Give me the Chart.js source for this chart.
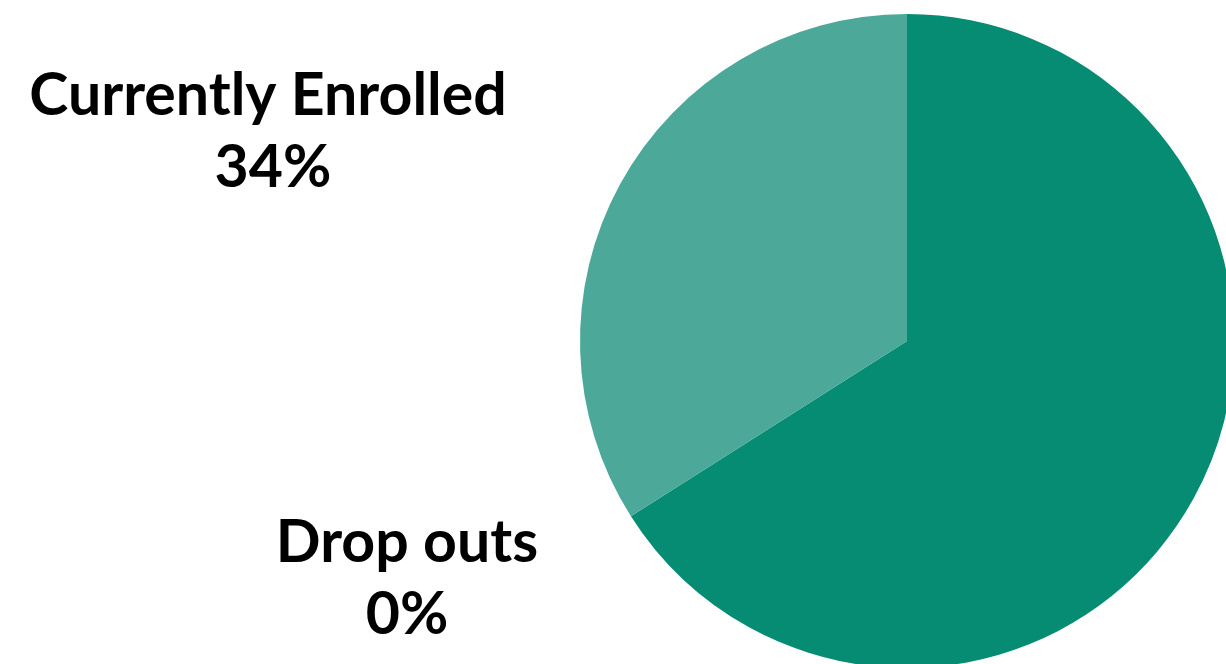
<!DOCTYPE html>
<html>
<head>
<meta charset="utf-8">
<title>Enrollment Status</title>
<script src="https://cdn.jsdelivr.net/npm/chart.js@4"></script>
<style>
  html, body { margin: 0; padding: 0; background: #fff; overflow: hidden; }
  .chart-box { position: absolute; left: 0; top: 0; width: 1240px; height: 680px; }
</style>
</head>
<body>
<div class="chart-box"><canvas id="statusChart"></canvas></div>
<script>
// enrollment breakdown (percent)
const categories = ['Completed', 'Currently Enrolled', 'Drop outs'];
const shares = [66, 34, 0];
const sliceColors = ['#078c74', '#4ca898', '#4ca898'];

// which slices get a caption, and where it sits
const captions = [
  { index: 1, x: 268, y: 115, pctX: 273 },
  { index: 2, x: 407, y: 562, pctX: 407 }
];

// draws the name + percentage captions beside the pie
const captionPlugin = {
  id: 'captions',
  afterDraw(chart) {
    const ctx = chart.ctx;
    ctx.save();
    ctx.fillStyle = '#000';
    ctx.textAlign = 'center';
    ctx.textBaseline = 'alphabetic';
    ctx.font = 'bold 59px Lato, sans-serif';
    captions.forEach(c => {
      ctx.fillText(categories[c.index], c.x, c.y);
      ctx.fillText(shares[c.index] + '%', c.pctX, c.y + 72);
    });
    ctx.restore();
  }
};

new Chart(document.getElementById('statusChart'), {
  type: 'pie',
  data: {
    labels: categories,
    datasets: [{
      data: shares,
      backgroundColor: sliceColors,
      borderWidth: 0
    }]
  },
  options: {
    responsive: true,
    maintainAspectRatio: false,
    animation: false,
    layout: { padding: { left: 580, top: 14, right: 6, bottom: 12 } },
    plugins: {
      legend: { display: false },
      tooltip: { enabled: false }
    }
  },
  plugins: [captionPlugin]
});
</script>
</body>
</html>
